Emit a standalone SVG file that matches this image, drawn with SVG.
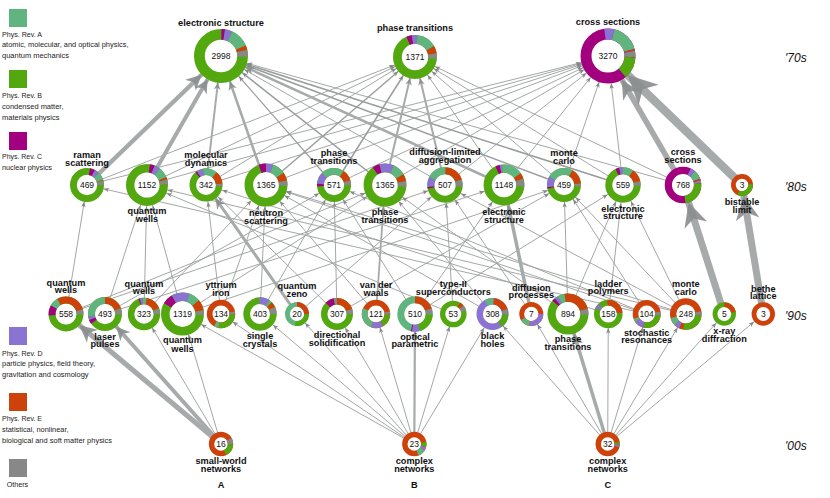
<svg xmlns="http://www.w3.org/2000/svg" width="830" height="498" viewBox="0 0 830 498">
<style>
.e{stroke:#9a9d9d;fill:none}
.k{stroke:#a7aaaa}
.ah{fill:#858888}
.ak{fill:#8a8d8d;fill-opacity:.9}
.s{fill:none}
.base{fill:#fff}
.a{stroke:#60b47d}.b{stroke:#52a80e}.c{stroke:#a3007f}.d{stroke:#8a73d2}.x{stroke:#cd410a}.o{stroke:#888}
.fa{fill:#60b47d}.fb{fill:#52a80e}.fc{fill:#a3007f}.fd{fill:#8a73d2}.fx{fill:#cd410a}.fo{fill:#888}
text{font-family:"Liberation Sans",Arial,Helvetica,sans-serif}
.l{font-size:9.2px;font-weight:bold;text-anchor:middle;fill:#111}
.n{font-size:8.5px;text-anchor:middle;fill:#111}
.dec{font-size:12px;font-style:italic;fill:#111}
.lg{font-size:7.6px;fill:#222}
</style>
<defs>
<marker id="t11" markerUnits="userSpaceOnUse" orient="auto" refX="16.5" refY="0" overflow="visible"><path class="ah" d="M0,-2.2L5.5,0L0,2.2L1.4,0z"/></marker>
<marker id="t12" markerUnits="userSpaceOnUse" orient="auto" refX="17.5" refY="0" overflow="visible"><path class="ah" d="M0,-2.2L5.5,0L0,2.2L1.4,0z"/></marker>
<marker id="t13" markerUnits="userSpaceOnUse" orient="auto" refX="18.5" refY="0" overflow="visible"><path class="ah" d="M0,-2.2L5.5,0L0,2.2L1.4,0z"/></marker>
<marker id="t14" markerUnits="userSpaceOnUse" orient="auto" refX="19.5" refY="0" overflow="visible"><path class="ah" d="M0,-2.2L5.5,0L0,2.2L1.4,0z"/></marker>
<marker id="t16" markerUnits="userSpaceOnUse" orient="auto" refX="21.5" refY="0" overflow="visible"><path class="ah" d="M0,-2.2L5.5,0L0,2.2L1.4,0z"/></marker>
<marker id="t17" markerUnits="userSpaceOnUse" orient="auto" refX="22.5" refY="0" overflow="visible"><path class="ah" d="M0,-2.2L5.5,0L0,2.2L1.4,0z"/></marker>
<marker id="t18" markerUnits="userSpaceOnUse" orient="auto" refX="23.5" refY="0" overflow="visible"><path class="ah" d="M0,-2.2L5.5,0L0,2.2L1.4,0z"/></marker>
<marker id="t20" markerUnits="userSpaceOnUse" orient="auto" refX="25.9" refY="0" overflow="visible"><path class="ah" d="M0,-2.2L5.5,0L0,2.2L1.4,0z"/></marker>
<marker id="t21" markerUnits="userSpaceOnUse" orient="auto" refX="26.7" refY="0" overflow="visible"><path class="ah" d="M0,-2.2L5.5,0L0,2.2L1.4,0z"/></marker>
<marker id="t22" markerUnits="userSpaceOnUse" orient="auto" refX="27.5" refY="0" overflow="visible"><path class="ah" d="M0,-2.2L5.5,0L0,2.2L1.4,0z"/></marker>
<marker id="t27" markerUnits="userSpaceOnUse" orient="auto" refX="32.5" refY="0" overflow="visible"><path class="ah" d="M0,-2.2L5.5,0L0,2.2L1.4,0z"/></marker>
<marker id="t28" markerUnits="userSpaceOnUse" orient="auto" refX="33" refY="0" overflow="visible"><path class="ah" d="M0,-2.2L5.5,0L0,2.2L1.4,0z"/></marker>
<marker id="k1" orient="auto" refX="9.4" refY="0" overflow="visible"><path class="ak" d="M0,-1.7L3.4,0L0,1.7L1,0z"/></marker>
<marker id="k2" orient="auto" refX="10.15" refY="0" overflow="visible"><path class="ak" d="M0,-1.7L3.4,0L0,1.7L1,0z"/></marker>
<marker id="k3" orient="auto" refX="16.9" refY="0" overflow="visible"><path class="ak" d="M0,-1.7L3.4,0L0,1.7L1,0z"/></marker>
<marker id="k4" orient="auto" refX="14.2" refY="0" overflow="visible"><path class="ak" d="M0,-1.7L3.4,0L0,1.7L1,0z"/></marker>
<marker id="k5" orient="auto" refX="14.4" refY="0" overflow="visible"><path class="ak" d="M0,-1.7L3.4,0L0,1.7L1,0z"/></marker>
<marker id="k6" orient="auto" refX="8.4" refY="0" overflow="visible"><path class="ak" d="M0,-1.7L3.4,0L0,1.7L1,0z"/></marker>
<marker id="k7" orient="auto" refX="6.64" refY="0" overflow="visible"><path class="ak" d="M0,-1.7L3.4,0L0,1.7L1,0z"/></marker>
<marker id="k8" orient="auto" refX="8.9" refY="0" overflow="visible"><path class="ak" d="M0,-1.7L3.4,0L0,1.7L1,0z"/></marker>
<marker id="k9" orient="auto" refX="15.3" refY="0" overflow="visible"><path class="ak" d="M0,-1.7L3.4,0L0,1.7L1,0z"/></marker>
<marker id="k10" orient="auto" refX="9.23" refY="0" overflow="visible"><path class="ak" d="M0,-1.7L3.4,0L0,1.7L1,0z"/></marker>
<marker id="k11" orient="auto" refX="6.01" refY="0" overflow="visible"><path class="ak" d="M0,-1.7L3.4,0L0,1.7L1,0z"/></marker>
<marker id="k12" orient="auto" refX="4.97" refY="0" overflow="visible"><path class="ak" d="M0,-1.7L3.4,0L0,1.7L1,0z"/></marker>
<marker id="k13" orient="auto" refX="6.9" refY="0" overflow="visible"><path class="ak" d="M0,-1.7L3.4,0L0,1.7L1,0z"/></marker>
<marker id="k14" orient="auto" refX="7.65" refY="0" overflow="visible"><path class="ak" d="M0,-1.7L3.4,0L0,1.7L1,0z"/></marker>
<marker id="k15" orient="auto" refX="9.26" refY="0" overflow="visible"><path class="ak" d="M0,-1.7L3.4,0L0,1.7L1,0z"/></marker>
<marker id="k16" orient="auto" refX="11.45" refY="0" overflow="visible"><path class="ak" d="M0,-1.7L3.4,0L0,1.7L1,0z"/></marker>
</defs>
<rect width="830" height="498" fill="#fff"/>

<g id="legend">
<rect class="fa" x="9" y="9" width="18" height="18"/>
<text class="lg" x="2" y="36.5" textLength="40" lengthAdjust="spacingAndGlyphs">Phys. Rev. A</text>
<text class="lg" x="2" y="47.3" textLength="126.5" lengthAdjust="spacingAndGlyphs">atomic, molecular, and optical physics,</text>
<text class="lg" x="2" y="58" textLength="67" lengthAdjust="spacingAndGlyphs">quantum mechanics</text>
<rect class="fb" x="9" y="70" width="18" height="18"/>
<text class="lg" x="2" y="97.5" textLength="40" lengthAdjust="spacingAndGlyphs">Phys. Rev. B</text>
<text class="lg" x="2" y="108.5" textLength="61.5" lengthAdjust="spacingAndGlyphs">condensed matter,</text>
<text class="lg" x="2" y="119.5" textLength="57.5" lengthAdjust="spacingAndGlyphs">materials physics</text>
<rect class="fc" x="9" y="132" width="18" height="18"/>
<text class="lg" x="2" y="159" textLength="40" lengthAdjust="spacingAndGlyphs">Phys. Rev. C</text>
<text class="lg" x="2" y="170" textLength="50" lengthAdjust="spacingAndGlyphs">nuclear physics</text>
<rect class="fd" x="9" y="327" width="18" height="18"/>
<text class="lg" x="2" y="355.5" textLength="40.5" lengthAdjust="spacingAndGlyphs">Phys. Rev. D</text>
<text class="lg" x="2" y="366.3" textLength="93" lengthAdjust="spacingAndGlyphs">particle physics, field theory,</text>
<text class="lg" x="2" y="377" textLength="86.5" lengthAdjust="spacingAndGlyphs">gravitation and cosmology</text>
<rect class="fx" x="9" y="393" width="18" height="18"/>
<text class="lg" x="2" y="421" textLength="40" lengthAdjust="spacingAndGlyphs">Phys. Rev. E</text>
<text class="lg" x="2" y="432" textLength="66.5" lengthAdjust="spacingAndGlyphs">statistical, nonlinear,</text>
<text class="lg" x="2" y="443" textLength="110" lengthAdjust="spacingAndGlyphs">biological and soft matter physics</text>
<rect class="fo" x="9" y="459" width="18" height="18"/>
<text class="lg" x="6.7" y="487" textLength="21.5" lengthAdjust="spacingAndGlyphs">Others</text>
</g>

<g id="decades">
<text class="dec" x="785" y="61.5">'70s</text>
<text class="dec" x="785" y="190.5">'80s</text>
<text class="dec" x="785" y="319.5">'90s</text>
<text class="dec" x="785" y="449.5">'00s</text>
</g>

<g id="connectors" stroke-width=".9">
<line class="e" x1="87" y1="185" x2="415" y2="57" marker-end="url(#t22)"/>
<line class="e" x1="87" y1="185" x2="608" y2="56" marker-end="url(#t28)"/>
<line class="e" x1="147" y1="185" x2="415" y2="57" marker-end="url(#t22)"/>
<line class="e" x1="147" y1="185" x2="608" y2="56" marker-end="url(#t28)"/>
<line class="e" x1="206" y1="185" x2="415" y2="57" marker-end="url(#t22)"/>
<line class="e" x1="206" y1="185" x2="608" y2="56" marker-end="url(#t28)"/>
<line class="e" x1="266" y1="185" x2="415" y2="57" stroke-width="1.4" marker-end="url(#t22)"/>
<line class="e" x1="266" y1="185" x2="608" y2="56" marker-end="url(#t28)"/>
<line class="e" x1="334" y1="185" x2="221" y2="56" stroke-width="1.2" marker-end="url(#t27)"/>
<line class="e" x1="334" y1="185" x2="415" y2="57" stroke-width="1.5" marker-end="url(#t22)"/>
<line class="e" x1="334" y1="185" x2="608" y2="56" marker-end="url(#t28)"/>
<line class="e" x1="385" y1="185" x2="221" y2="56" stroke-width="1.5" marker-end="url(#t27)"/>
<line class="e" x1="385" y1="185" x2="608" y2="56" marker-end="url(#t28)"/>
<line class="e" x1="445" y1="185" x2="221" y2="56" marker-end="url(#t27)"/>
<line class="e" x1="445" y1="185" x2="608" y2="56" marker-end="url(#t28)"/>
<line class="e" x1="504" y1="185" x2="415" y2="57" marker-end="url(#t22)"/>
<line class="e" x1="504" y1="185" x2="608" y2="56" marker-end="url(#t28)"/>
<line class="e" x1="564" y1="185" x2="221" y2="56" stroke-width="1.5" marker-end="url(#t27)"/>
<line class="e" x1="564" y1="185" x2="415" y2="57" marker-end="url(#t22)"/>
<line class="e" x1="564" y1="185" x2="608" y2="56" marker-end="url(#t28)"/>
<line class="e" x1="623" y1="185" x2="221" y2="56" stroke-width="1.5" marker-end="url(#t27)"/>
<line class="e" x1="623" y1="185" x2="415" y2="57" marker-end="url(#t22)"/>
<line class="e" x1="623" y1="185" x2="608" y2="56" marker-end="url(#t28)"/>
<line class="e" x1="683" y1="185" x2="415" y2="57" marker-end="url(#t22)"/>
<line class="e" x1="683" y1="185" x2="221" y2="56" marker-end="url(#t27)"/>
<line class="e" x1="66" y1="314" x2="87" y2="185" marker-end="url(#t17)"/>
<line class="e" x1="66" y1="314" x2="385" y2="185" marker-end="url(#t21)"/>
<line class="e" x1="66" y1="314" x2="445" y2="185" marker-end="url(#t18)"/>
<line class="e" x1="105" y1="314" x2="147" y2="185" marker-end="url(#t21)"/>
<line class="e" x1="105" y1="314" x2="334" y2="185" marker-end="url(#t17)"/>
<line class="e" x1="105" y1="314" x2="504" y2="185" marker-end="url(#t20)"/>
<line class="e" x1="144" y1="314" x2="147" y2="185" marker-end="url(#t21)"/>
<line class="e" x1="144" y1="314" x2="266" y2="185" marker-end="url(#t21)"/>
<line class="e" x1="182.5" y1="314" x2="147" y2="185" marker-end="url(#t21)"/>
<line class="e" x1="182.5" y1="314" x2="385" y2="185" marker-end="url(#t21)"/>
<line class="e" x1="182.5" y1="314" x2="564" y2="185" marker-end="url(#t17)"/>
<line class="e" x1="221" y1="314" x2="266" y2="185" marker-end="url(#t21)"/>
<line class="e" x1="221" y1="314" x2="206" y2="185" marker-end="url(#t17)"/>
<line class="e" x1="260" y1="314" x2="266" y2="185" marker-end="url(#t21)"/>
<line class="e" x1="260" y1="314" x2="334" y2="185" marker-end="url(#t17)"/>
<line class="e" x1="297" y1="314" x2="445" y2="185" marker-end="url(#t18)"/>
<line class="e" x1="337" y1="314" x2="334" y2="185" marker-end="url(#t17)"/>
<line class="e" x1="337" y1="314" x2="206" y2="185" marker-end="url(#t17)"/>
<line class="e" x1="337" y1="314" x2="564" y2="185" marker-end="url(#t17)"/>
<line class="e" x1="376" y1="314" x2="266" y2="185" marker-end="url(#t21)"/>
<line class="e" x1="415" y1="314" x2="334" y2="185" marker-end="url(#t17)"/>
<line class="e" x1="415" y1="314" x2="504" y2="185" marker-end="url(#t20)"/>
<line class="e" x1="415" y1="314" x2="623" y2="185" marker-end="url(#t18)"/>
<line class="e" x1="453.3" y1="314" x2="445" y2="185" marker-end="url(#t18)"/>
<line class="e" x1="453.3" y1="314" x2="147" y2="185" marker-end="url(#t21)"/>
<line class="e" x1="492.5" y1="314" x2="385" y2="185" marker-end="url(#t21)"/>
<line class="e" x1="492.5" y1="314" x2="266" y2="185" marker-end="url(#t21)"/>
<line class="e" x1="531.3" y1="314" x2="445" y2="185" marker-end="url(#t18)"/>
<line class="e" x1="568" y1="314" x2="623" y2="185" marker-end="url(#t18)"/>
<line class="e" x1="568" y1="314" x2="385" y2="185" marker-end="url(#t21)"/>
<line class="e" x1="568" y1="314" x2="564" y2="185" marker-end="url(#t17)"/>
<line class="e" x1="608.3" y1="314" x2="623" y2="185" marker-end="url(#t18)"/>
<line class="e" x1="608.3" y1="314" x2="206" y2="185" marker-end="url(#t17)"/>
<line class="e" x1="646.7" y1="314" x2="266" y2="185" marker-end="url(#t21)"/>
<line class="e" x1="646.7" y1="314" x2="334" y2="185" marker-end="url(#t17)"/>
<line class="e" x1="646.7" y1="314" x2="564" y2="185" marker-end="url(#t17)"/>
<line class="e" x1="646.7" y1="314" x2="87" y2="185" marker-end="url(#t17)"/>
<line class="e" x1="685.8" y1="314" x2="147" y2="185" marker-end="url(#t21)"/>
<line class="e" x1="685.8" y1="314" x2="266" y2="185" marker-end="url(#t21)"/>
<line class="e" x1="685.8" y1="314" x2="564" y2="185" marker-end="url(#t17)"/>
<line class="e" x1="685.8" y1="314" x2="623" y2="185" marker-end="url(#t18)"/>
<line class="e" x1="685.8" y1="314" x2="445" y2="185" marker-end="url(#t18)"/>
<line class="e" x1="221" y1="444" x2="144" y2="314" marker-end="url(#t16)"/>
<line class="e" x1="221" y1="444" x2="182.5" y2="314" marker-end="url(#t21)"/>
<line class="e" x1="414.3" y1="444" x2="182.5" y2="314" marker-end="url(#t21)"/>
<line class="e" x1="414.3" y1="444" x2="221" y2="314" marker-end="url(#t14)"/>
<line class="e" x1="414.3" y1="444" x2="260" y2="314" marker-end="url(#t17)"/>
<line class="e" x1="414.3" y1="444" x2="297" y2="314" marker-end="url(#t12)"/>
<line class="e" x1="414.3" y1="444" x2="337" y2="314" marker-end="url(#t16)"/>
<line class="e" x1="414.3" y1="444" x2="376" y2="314" marker-end="url(#t14)"/>
<line class="e" x1="414.3" y1="444" x2="453.3" y2="314" marker-end="url(#t13)"/>
<line class="e" x1="414.3" y1="444" x2="492.5" y2="314" marker-end="url(#t16)"/>
<line class="e" x1="607.7" y1="444" x2="492.5" y2="314" marker-end="url(#t16)"/>
<line class="e" x1="607.7" y1="444" x2="531.3" y2="314" marker-end="url(#t12)"/>
<line class="e" x1="607.7" y1="444" x2="608.3" y2="314" marker-end="url(#t14)"/>
<line class="e" x1="607.7" y1="444" x2="646.7" y2="314" marker-end="url(#t14)"/>
<line class="e" x1="607.7" y1="444" x2="685.8" y2="314" marker-end="url(#t16)"/>
<line class="e" x1="607.7" y1="444" x2="724.3" y2="314" marker-end="url(#t12)"/>
<line class="e" x1="607.7" y1="444" x2="763.3" y2="314" marker-end="url(#t12)"/>
<line class="e k" x1="87" y1="185" x2="221" y2="56" stroke-width="4.5" marker-end="url(#k1)"/>
<line class="e k" x1="147" y1="185" x2="221" y2="56" stroke-width="4" marker-end="url(#k2)"/>
<line class="e k" x1="206" y1="185" x2="221" y2="56" stroke-width="2" marker-end="url(#k3)"/>
<line class="e k" x1="266" y1="185" x2="221" y2="56" stroke-width="2.5" marker-end="url(#k4)"/>
<line class="e k" x1="504" y1="185" x2="221" y2="56" stroke-width="2.5" marker-end="url(#k4)"/>
<line class="e k" x1="385" y1="185" x2="415" y2="57" stroke-width="2" marker-end="url(#k5)"/>
<line class="e k" x1="445" y1="185" x2="415" y2="57" stroke-width="2" marker-end="url(#k5)"/>
<line class="e k" x1="683" y1="185" x2="608" y2="56" stroke-width="5.5" marker-end="url(#k6)"/>
<line class="e k" x1="742" y1="185" x2="608" y2="56" stroke-width="8.5" marker-end="url(#k7)"/>
<line class="e k" x1="297" y1="314" x2="206" y2="185" stroke-width="3" marker-end="url(#k8)"/>
<line class="e k" x1="376" y1="314" x2="385" y2="185" stroke-width="1.8" marker-end="url(#k9)"/>
<line class="e k" x1="531.3" y1="314" x2="504" y2="185" stroke-width="3.5" marker-end="url(#k10)"/>
<line class="e k" x1="724.3" y1="314" x2="683" y2="185" stroke-width="7" marker-end="url(#k11)"/>
<line class="e k" x1="763.3" y1="314" x2="742" y2="185" stroke-width="7" marker-end="url(#k12)"/>
<line class="e k" x1="221" y1="444" x2="66" y2="314" stroke-width="5" marker-end="url(#k13)"/>
<line class="e k" x1="221" y1="444" x2="105" y2="314" stroke-width="4" marker-end="url(#k14)"/>
<line class="e k" x1="607.7" y1="444" x2="568" y2="314" stroke-width="3.5" marker-end="url(#k15)"/>
<line class="e k" x1="414.3" y1="444" x2="415" y2="314" stroke-width="2.2" marker-end="url(#k16)"/>
</g>

<g id="n-es70" stroke-width="10.8">
<circle class="base b" cx="221" cy="56" r="21.6"/>
<circle class="s c" cx="221" cy="56" r="21.6" pathLength="360" stroke-dasharray="8 360" transform="rotate(-89 221 56)"/>
<circle class="s d" cx="221" cy="56" r="21.6" pathLength="360" stroke-dasharray="16 360" transform="rotate(-81 221 56)"/>
<circle class="s a" cx="221" cy="56" r="21.6" pathLength="360" stroke-dasharray="42 360" transform="rotate(-65 221 56)"/>
<circle class="s x" cx="221" cy="56" r="21.6" pathLength="360" stroke-dasharray="10 360" transform="rotate(-23 221 56)"/>
<circle class="s o" cx="221" cy="56" r="21.6" pathLength="360" stroke-dasharray="15 360" transform="rotate(-13 221 56)"/>
<text class="n" x="221" y="59">2998</text>
<text class="l" x="221" y="26">electronic structure</text>
</g>
<g id="n-pt70" stroke-width="8.8">
<circle class="base b" cx="415" cy="57" r="17.6"/>
<circle class="s c" cx="415" cy="57" r="17.6" pathLength="360" stroke-dasharray="15 360" transform="rotate(-113 415 57)"/>
<circle class="s d" cx="415" cy="57" r="17.6" pathLength="360" stroke-dasharray="15 360" transform="rotate(-98 415 57)"/>
<circle class="s a" cx="415" cy="57" r="17.6" pathLength="360" stroke-dasharray="53 360" transform="rotate(-83 415 57)"/>
<circle class="s x" cx="415" cy="57" r="17.6" pathLength="360" stroke-dasharray="20 360" transform="rotate(-30 415 57)"/>
<circle class="s o" cx="415" cy="57" r="17.6" pathLength="360" stroke-dasharray="15 360" transform="rotate(-10 415 57)"/>
<text class="n" x="415" y="60">1371</text>
<text class="l" x="415" y="31">phase transitions</text>
</g>
<g id="n-cs70" stroke-width="11">
<circle class="base c" cx="608" cy="56" r="22"/>
<circle class="s d" cx="608" cy="56" r="22" pathLength="360" stroke-dasharray="21 360" transform="rotate(-98 608 56)"/>
<circle class="s a" cx="608" cy="56" r="22" pathLength="360" stroke-dasharray="62 360" transform="rotate(-77 608 56)"/>
<circle class="s x" cx="608" cy="56" r="22" pathLength="360" stroke-dasharray="4 360" transform="rotate(-15 608 56)"/>
<circle class="s o" cx="608" cy="56" r="22" pathLength="360" stroke-dasharray="14 360" transform="rotate(-11 608 56)"/>
<circle class="s b" cx="608" cy="56" r="22" pathLength="360" stroke-dasharray="47 360" transform="rotate(3 608 56)"/>
<text class="n" x="608" y="59">3270</text>
<text class="l" x="608" y="25">cross sections</text>
</g>

<g id="n-raman" stroke-width="6.8">
<circle class="base b" cx="87" cy="185" r="13.6"/>
<circle class="s c" cx="87" cy="185" r="13.6" pathLength="360" stroke-dasharray="18 360" transform="rotate(-80 87 185)"/>
<circle class="s d" cx="87" cy="185" r="13.6" pathLength="360" stroke-dasharray="17 360" transform="rotate(-62 87 185)"/>
<circle class="s a" cx="87" cy="185" r="13.6" pathLength="360" stroke-dasharray="27 360" transform="rotate(-45 87 185)"/>
<circle class="s x" cx="87" cy="185" r="13.6" pathLength="360" stroke-dasharray="3 360" transform="rotate(-18 87 185)"/>
<circle class="s o" cx="87" cy="185" r="13.6" pathLength="360" stroke-dasharray="15 360" transform="rotate(-15 87 185)"/>
<text class="n" x="87" y="188">469</text>
<text class="l" x="87" y="158">raman</text>
<text class="l" x="87" y="165.5">scattering</text>
</g>
<g id="n-qw1152" stroke-width="8.4">
<circle class="base b" cx="147" cy="185" r="16.8"/>
<circle class="s c" cx="147" cy="185" r="16.8" pathLength="360" stroke-dasharray="14 360" transform="rotate(-82 147 185)"/>
<circle class="s d" cx="147" cy="185" r="16.8" pathLength="360" stroke-dasharray="16 360" transform="rotate(-68 147 185)"/>
<circle class="s a" cx="147" cy="185" r="16.8" pathLength="360" stroke-dasharray="30 360" transform="rotate(-52 147 185)"/>
<circle class="s x" cx="147" cy="185" r="16.8" pathLength="360" stroke-dasharray="7 360" transform="rotate(-22 147 185)"/>
<circle class="s o" cx="147" cy="185" r="16.8" pathLength="360" stroke-dasharray="13 360" transform="rotate(-15 147 185)"/>
<text class="n" x="147" y="188">1152</text>
<text class="l" x="147" y="214.3">quantum</text>
<text class="l" x="147" y="222">wells</text>
</g>
<g id="n-moldyn" stroke-width="6.6">
<circle class="base b" cx="206" cy="185" r="13.2"/>
<circle class="s c" cx="206" cy="185" r="13.2" pathLength="360" stroke-dasharray="7 360" transform="rotate(-130 206 185)"/>
<circle class="s d" cx="206" cy="185" r="13.2" pathLength="360" stroke-dasharray="23 360" transform="rotate(-123 206 185)"/>
<circle class="s a" cx="206" cy="185" r="13.2" pathLength="360" stroke-dasharray="50 360" transform="rotate(-100 206 185)"/>
<circle class="s x" cx="206" cy="185" r="13.2" pathLength="360" stroke-dasharray="45 360" transform="rotate(-50 206 185)"/>
<circle class="s o" cx="206" cy="185" r="13.2" pathLength="360" stroke-dasharray="10 360" transform="rotate(-5 206 185)"/>
<text class="n" x="206" y="188">342</text>
<text class="l" x="206" y="158">molecular</text>
<text class="l" x="206" y="165.5">dynamics</text>
</g>
<g id="n-neutron" stroke-width="8.6">
<circle class="base b" cx="266" cy="185" r="17.2"/>
<circle class="s c" cx="266" cy="185" r="17.2" pathLength="360" stroke-dasharray="20 360" transform="rotate(-110 266 185)"/>
<circle class="s d" cx="266" cy="185" r="17.2" pathLength="360" stroke-dasharray="20 360" transform="rotate(-90 266 185)"/>
<circle class="s a" cx="266" cy="185" r="17.2" pathLength="360" stroke-dasharray="35 360" transform="rotate(-70 266 185)"/>
<circle class="s x" cx="266" cy="185" r="17.2" pathLength="360" stroke-dasharray="23 360" transform="rotate(-35 266 185)"/>
<circle class="s o" cx="266" cy="185" r="17.2" pathLength="360" stroke-dasharray="14 360" transform="rotate(-12 266 185)"/>
<text class="n" x="266" y="188">1365</text>
<text class="l" x="266" y="216">neutron</text>
<text class="l" x="266" y="223.5">scattering</text>
</g>
<g id="n-pt571" stroke-width="6.8">
<circle class="base b" cx="334" cy="185" r="13.6"/>
<circle class="s c" cx="334" cy="185" r="13.6" pathLength="360" stroke-dasharray="10 360" transform="rotate(-185 334 185)"/>
<circle class="s d" cx="334" cy="185" r="13.6" pathLength="360" stroke-dasharray="40 360" transform="rotate(-175 334 185)"/>
<circle class="s a" cx="334" cy="185" r="13.6" pathLength="360" stroke-dasharray="80 360" transform="rotate(-135 334 185)"/>
<circle class="s x" cx="334" cy="185" r="13.6" pathLength="360" stroke-dasharray="40 360" transform="rotate(-55 334 185)"/>
<circle class="s o" cx="334" cy="185" r="13.6" pathLength="360" stroke-dasharray="15 360" transform="rotate(-15 334 185)"/>
<text class="n" x="334" y="188">571</text>
<text class="l" x="334" y="156">phase</text>
<text class="l" x="334" y="163.5">transitions</text>
</g>
<g id="n-pt1365" stroke-width="8.6">
<circle class="base b" cx="385" cy="185" r="17.1"/>
<circle class="s c" cx="385" cy="185" r="17.1" pathLength="360" stroke-dasharray="20 360" transform="rotate(-125 385 185)"/>
<circle class="s d" cx="385" cy="185" r="17.1" pathLength="360" stroke-dasharray="40 360" transform="rotate(-105 385 185)"/>
<circle class="s a" cx="385" cy="185" r="17.1" pathLength="360" stroke-dasharray="35 360" transform="rotate(-65 385 185)"/>
<circle class="s x" cx="385" cy="185" r="17.1" pathLength="360" stroke-dasharray="20 360" transform="rotate(-30 385 185)"/>
<circle class="s o" cx="385" cy="185" r="17.1" pathLength="360" stroke-dasharray="15 360" transform="rotate(-10 385 185)"/>
<text class="n" x="385" y="188">1365</text>
<text class="l" x="385" y="215">phase</text>
<text class="l" x="385" y="222.7">transitions</text>
</g>
<g id="n-dla" stroke-width="7">
<circle class="base b" cx="445" cy="185" r="14.2"/>
<circle class="s c" cx="445" cy="185" r="14.2" pathLength="360" stroke-dasharray="6 360" transform="rotate(-192 445 185)"/>
<circle class="s d" cx="445" cy="185" r="14.2" pathLength="360" stroke-dasharray="34 360" transform="rotate(-186 445 185)"/>
<circle class="s a" cx="445" cy="185" r="14.2" pathLength="360" stroke-dasharray="64 360" transform="rotate(-152 445 185)"/>
<circle class="s x" cx="445" cy="185" r="14.2" pathLength="360" stroke-dasharray="70 360" transform="rotate(-88 445 185)"/>
<circle class="s o" cx="445" cy="185" r="14.2" pathLength="360" stroke-dasharray="23 360" transform="rotate(-18 445 185)"/>
<text class="n" x="445" y="188">507</text>
<text class="l" x="445" y="155">diffusion-limited</text>
<text class="l" x="445" y="162.5">aggregation</text>
</g>
<g id="n-es1148" stroke-width="8.2">
<circle class="base b" cx="504" cy="185" r="16.3"/>
<circle class="s c" cx="504" cy="185" r="16.3" pathLength="360" stroke-dasharray="13 360" transform="rotate(-115 504 185)"/>
<circle class="s d" cx="504" cy="185" r="16.3" pathLength="360" stroke-dasharray="7 360" transform="rotate(-102 504 185)"/>
<circle class="s a" cx="504" cy="185" r="16.3" pathLength="360" stroke-dasharray="60 360" transform="rotate(-95 504 185)"/>
<circle class="s x" cx="504" cy="185" r="16.3" pathLength="360" stroke-dasharray="17 360" transform="rotate(-35 504 185)"/>
<circle class="s o" cx="504" cy="185" r="16.3" pathLength="360" stroke-dasharray="23 360" transform="rotate(-18 504 185)"/>
<text class="n" x="504" y="188">1148</text>
<text class="l" x="504" y="215.3">electronic</text>
<text class="l" x="504" y="222.7">structure</text>
</g>
<g id="n-mc459" stroke-width="6.8">
<circle class="base b" cx="564" cy="185" r="13.6"/>
<circle class="s c" cx="564" cy="185" r="13.6" pathLength="360" stroke-dasharray="6 360" transform="rotate(-193 564 185)"/>
<circle class="s d" cx="564" cy="185" r="13.6" pathLength="360" stroke-dasharray="37 360" transform="rotate(-187 564 185)"/>
<circle class="s a" cx="564" cy="185" r="13.6" pathLength="360" stroke-dasharray="90 360" transform="rotate(-150 564 185)"/>
<circle class="s x" cx="564" cy="185" r="13.6" pathLength="360" stroke-dasharray="55 360" transform="rotate(-60 564 185)"/>
<circle class="s o" cx="564" cy="185" r="13.6" pathLength="360" stroke-dasharray="10 360" transform="rotate(-5 564 185)"/>
<text class="n" x="564" y="188">459</text>
<text class="l" x="564" y="156.3">monte</text>
<text class="l" x="564" y="163.7">carlo</text>
</g>
<g id="n-es559" stroke-width="7">
<circle class="base b" cx="623" cy="185" r="14.2"/>
<circle class="s c" cx="623" cy="185" r="14.2" pathLength="360" stroke-dasharray="13 360" transform="rotate(-115 623 185)"/>
<circle class="s d" cx="623" cy="185" r="14.2" pathLength="360" stroke-dasharray="12 360" transform="rotate(-102 623 185)"/>
<circle class="s a" cx="623" cy="185" r="14.2" pathLength="360" stroke-dasharray="35 360" transform="rotate(-90 623 185)"/>
<circle class="s x" cx="623" cy="185" r="14.2" pathLength="360" stroke-dasharray="43 360" transform="rotate(-55 623 185)"/>
<circle class="s o" cx="623" cy="185" r="14.2" pathLength="360" stroke-dasharray="15 360" transform="rotate(-12 623 185)"/>
<text class="n" x="623" y="188">559</text>
<text class="l" x="623" y="211.7">electronic</text>
<text class="l" x="623" y="219.2">structure</text>
</g>
<g id="n-cs768" stroke-width="7.3">
<circle class="base c" cx="683" cy="185" r="14.65"/>
<circle class="s d" cx="683" cy="185" r="14.65" pathLength="360" stroke-dasharray="15 360" transform="rotate(-65 683 185)"/>
<circle class="s a" cx="683" cy="185" r="14.65" pathLength="360" stroke-dasharray="30 360" transform="rotate(-50 683 185)"/>
<circle class="s x" cx="683" cy="185" r="14.65" pathLength="360" stroke-dasharray="5 360" transform="rotate(-20 683 185)"/>
<circle class="s o" cx="683" cy="185" r="14.65" pathLength="360" stroke-dasharray="10 360" transform="rotate(-15 683 185)"/>
<circle class="s b" cx="683" cy="185" r="14.65" pathLength="360" stroke-dasharray="87 360" transform="rotate(-5 683 185)"/>
<text class="n" x="683" y="188">768</text>
<text class="l" x="683" y="155">cross</text>
<text class="l" x="683" y="162.7">sections</text>
</g>
<g id="n-bis3" stroke-width="4.8">
<circle class="base x" cx="742" cy="185" r="8.6"/>
<circle class="s b" cx="742" cy="185" r="8.6" pathLength="360" stroke-dasharray="120 360" transform="rotate(-5 742 185)"/>
<text class="n" x="742" y="188">3</text>
<text class="l" x="742" y="205">bistable</text>
<text class="l" x="742" y="212.7">limit</text>
</g>

<g id="n-qw558" stroke-width="7">
<circle class="base b" cx="66" cy="314" r="14"/>
<circle class="s c" cx="66" cy="314" r="14" pathLength="360" stroke-dasharray="35 360" transform="rotate(-185 66 314)"/>
<circle class="s a" cx="66" cy="314" r="14" pathLength="360" stroke-dasharray="30 360" transform="rotate(-150 66 314)"/>
<circle class="s x" cx="66" cy="314" r="14" pathLength="360" stroke-dasharray="105 360" transform="rotate(-120 66 314)"/>
<circle class="s o" cx="66" cy="314" r="14" pathLength="360" stroke-dasharray="17 360" transform="rotate(-15 66 314)"/>
<text class="n" x="66" y="317">558</text>
<text class="l" x="66" y="285.7">quantum</text>
<text class="l" x="66" y="293.3">wells</text>
</g>
<g id="n-lp493" stroke-width="6.8">
<circle class="base b" cx="105" cy="314" r="13.6"/>
<circle class="s c" cx="105" cy="314" r="13.6" pathLength="360" stroke-dasharray="15 360" transform="rotate(145 105 314)"/>
<circle class="s d" cx="105" cy="314" r="13.6" pathLength="360" stroke-dasharray="12 360" transform="rotate(160 105 314)"/>
<circle class="s a" cx="105" cy="314" r="13.6" pathLength="360" stroke-dasharray="98 360" transform="rotate(172 105 314)"/>
<circle class="s x" cx="105" cy="314" r="13.6" pathLength="360" stroke-dasharray="70 360" transform="rotate(-90 105 314)"/>
<circle class="s o" cx="105" cy="314" r="13.6" pathLength="360" stroke-dasharray="22 360" transform="rotate(-20 105 314)"/>
<text class="n" x="105" y="317">493</text>
<text class="l" x="105" y="340">laser</text>
<text class="l" x="105" y="347.3">pulses</text>
</g>
<g id="n-qw323" stroke-width="6.5">
<circle class="base b" cx="144" cy="314" r="12.95"/>
<circle class="s c" cx="144" cy="314" r="12.95" pathLength="360" stroke-dasharray="5 360" transform="rotate(-110 144 314)"/>
<circle class="s d" cx="144" cy="314" r="12.95" pathLength="360" stroke-dasharray="10 360" transform="rotate(-105 144 314)"/>
<circle class="s a" cx="144" cy="314" r="12.95" pathLength="360" stroke-dasharray="15 360" transform="rotate(-95 144 314)"/>
<circle class="s x" cx="144" cy="314" r="12.95" pathLength="360" stroke-dasharray="58 360" transform="rotate(-80 144 314)"/>
<circle class="s o" cx="144" cy="314" r="12.95" pathLength="360" stroke-dasharray="20 360" transform="rotate(-20 144 314)"/>
<text class="n" x="144" y="317">323</text>
<text class="l" x="144" y="286.5">quantum</text>
<text class="l" x="144" y="294.3">wells</text>
</g>
<g id="n-qw1319" stroke-width="8.6">
<circle class="base b" cx="182.5" cy="314" r="17.2"/>
<circle class="s c" cx="182.5" cy="314" r="17.2" pathLength="360" stroke-dasharray="30 360" transform="rotate(-150 182.5 314)"/>
<circle class="s d" cx="182.5" cy="314" r="17.2" pathLength="360" stroke-dasharray="50 360" transform="rotate(-120 182.5 314)"/>
<circle class="s a" cx="182.5" cy="314" r="17.2" pathLength="360" stroke-dasharray="30 360" transform="rotate(-70 182.5 314)"/>
<circle class="s x" cx="182.5" cy="314" r="17.2" pathLength="360" stroke-dasharray="30 360" transform="rotate(-40 182.5 314)"/>
<circle class="s o" cx="182.5" cy="314" r="17.2" pathLength="360" stroke-dasharray="12 360" transform="rotate(-10 182.5 314)"/>
<text class="n" x="182.5" y="317">1319</text>
<text class="l" x="182.5" y="343.3">quantum</text>
<text class="l" x="182.5" y="351.5">wells</text>
</g>
<g id="n-yi134" stroke-width="5.7">
<circle class="base x" cx="221" cy="314" r="11.35"/>
<circle class="s o" cx="221" cy="314" r="11.35" pathLength="360" stroke-dasharray="12 360" transform="rotate(-10 221 314)"/>
<circle class="s b" cx="221" cy="314" r="11.35" pathLength="360" stroke-dasharray="98 360" transform="rotate(2 221 314)"/>
<circle class="s a" cx="221" cy="314" r="11.35" pathLength="360" stroke-dasharray="20 360" transform="rotate(100 221 314)"/>
<text class="n" x="221" y="317">134</text>
<text class="l" x="221" y="288.3">yttrium</text>
<text class="l" x="221" y="296">iron</text>
</g>
<g id="n-sc403" stroke-width="6.7">
<circle class="base b" cx="260" cy="314" r="13.35"/>
<circle class="s d" cx="260" cy="314" r="13.35" pathLength="360" stroke-dasharray="38 360" transform="rotate(-93 260 314)"/>
<circle class="s a" cx="260" cy="314" r="13.35" pathLength="360" stroke-dasharray="10 360" transform="rotate(-55 260 314)"/>
<circle class="s x" cx="260" cy="314" r="13.35" pathLength="360" stroke-dasharray="20 360" transform="rotate(-45 260 314)"/>
<circle class="s o" cx="260" cy="314" r="13.35" pathLength="360" stroke-dasharray="25 360" transform="rotate(-25 260 314)"/>
<text class="n" x="260" y="317">403</text>
<text class="l" x="260" y="339.3">single</text>
<text class="l" x="260" y="347.3">crystals</text>
</g>
<g id="n-qz20" stroke-width="4.8">
<circle class="base a" cx="297" cy="314" r="9.6"/>
<circle class="s x" cx="297" cy="314" r="9.6" pathLength="360" stroke-dasharray="90 360" transform="rotate(-90 297 314)"/>
<circle class="s b" cx="297" cy="314" r="9.6" pathLength="360" stroke-dasharray="100 360" transform="rotate(0 297 314)"/>
<text class="n" x="297" y="317">20</text>
<text class="l" x="297" y="289.3">quantum</text>
<text class="l" x="297" y="297">zeno</text>
</g>
<g id="n-ds307" stroke-width="6.4">
<circle class="base b" cx="337" cy="314" r="12.8"/>
<circle class="s c" cx="337" cy="314" r="12.8" pathLength="360" stroke-dasharray="33 360" transform="rotate(-135 337 314)"/>
<circle class="s o" cx="337" cy="314" r="12.8" pathLength="360" stroke-dasharray="12 360" transform="rotate(-102 337 314)"/>
<circle class="s x" cx="337" cy="314" r="12.8" pathLength="360" stroke-dasharray="72 360" transform="rotate(-90 337 314)"/>
<circle class="s o" cx="337" cy="314" r="12.8" pathLength="360" stroke-dasharray="18 360" transform="rotate(-18 337 314)"/>
<text class="n" x="337" y="317">307</text>
<text class="l" x="337" y="338.3">directional</text>
<text class="l" x="337" y="346">solidification</text>
</g>
<g id="n-vdw121" stroke-width="5.7">
<circle class="base x" cx="376" cy="314" r="11.35"/>
<circle class="s o" cx="376" cy="314" r="11.35" pathLength="360" stroke-dasharray="13 360" transform="rotate(-10 376 314)"/>
<circle class="s b" cx="376" cy="314" r="11.35" pathLength="360" stroke-dasharray="57 360" transform="rotate(3 376 314)"/>
<circle class="s d" cx="376" cy="314" r="11.35" pathLength="360" stroke-dasharray="50 360" transform="rotate(60 376 314)"/>
<circle class="s a" cx="376" cy="314" r="11.35" pathLength="360" stroke-dasharray="95 360" transform="rotate(110 376 314)"/>
<text class="n" x="376" y="317">121</text>
<text class="l" x="376" y="287.7">van der</text>
<text class="l" x="376" y="295.5">waals</text>
</g>
<g id="n-op510" stroke-width="7">
<circle class="base a" cx="415" cy="314" r="14.2"/>
<circle class="s x" cx="415" cy="314" r="14.2" pathLength="360" stroke-dasharray="72 360" transform="rotate(-90 415 314)"/>
<circle class="s o" cx="415" cy="314" r="14.2" pathLength="360" stroke-dasharray="20 360" transform="rotate(-18 415 314)"/>
<circle class="s b" cx="415" cy="314" r="14.2" pathLength="360" stroke-dasharray="73 360" transform="rotate(2 415 314)"/>
<circle class="s d" cx="415" cy="314" r="14.2" pathLength="360" stroke-dasharray="25 360" transform="rotate(75 415 314)"/>
<circle class="s c" cx="415" cy="314" r="14.2" pathLength="360" stroke-dasharray="4 360" transform="rotate(100 415 314)"/>
<text class="n" x="415" y="317">510</text>
<text class="l" x="415" y="340">optical</text>
<text class="l" x="415" y="347.3">parametric</text>
</g>
<g id="n-t53" stroke-width="5.3">
<circle class="base b" cx="453.3" cy="314" r="10.65"/>
<circle class="s x" cx="453.3" cy="314" r="10.65" pathLength="360" stroke-dasharray="20 360" transform="rotate(-60 453.3 314)"/>
<circle class="s o" cx="453.3" cy="314" r="10.65" pathLength="360" stroke-dasharray="25 360" transform="rotate(-40 453.3 314)"/>
<text class="n" x="453.3" y="317">53</text>
<text class="l" x="453.3" y="287.3">type-II</text>
<text class="l" x="453.3" y="295">superconductors</text>
</g>
<g id="n-bh308" stroke-width="6.4">
<circle class="base d" cx="492.5" cy="314" r="12.8"/>
<circle class="s a" cx="492.5" cy="314" r="12.8" pathLength="360" stroke-dasharray="35 360" transform="rotate(-120 492.5 314)"/>
<circle class="s x" cx="492.5" cy="314" r="12.8" pathLength="360" stroke-dasharray="67 360" transform="rotate(-85 492.5 314)"/>
<circle class="s o" cx="492.5" cy="314" r="12.8" pathLength="360" stroke-dasharray="20 360" transform="rotate(-18 492.5 314)"/>
<circle class="s b" cx="492.5" cy="314" r="12.8" pathLength="360" stroke-dasharray="53 360" transform="rotate(2 492.5 314)"/>
<text class="n" x="492.5" y="317">308</text>
<text class="l" x="492.5" y="339.3">black</text>
<text class="l" x="492.5" y="346.5">holes</text>
</g>
<g id="n-dp7" stroke-width="4.8">
<circle class="base x" cx="531.3" cy="314" r="9.6"/>
<circle class="s d" cx="531.3" cy="314" r="9.6" pathLength="360" stroke-dasharray="100 360" transform="rotate(0 531.3 314)"/>
<circle class="s a" cx="531.3" cy="314" r="9.6" pathLength="360" stroke-dasharray="50 360" transform="rotate(100 531.3 314)"/>
<text class="n" x="531.3" y="317">7</text>
<text class="l" x="531.3" y="290.5">diffusion</text>
<text class="l" x="531.3" y="297.8">processes</text>
</g>
<g id="n-pt894" stroke-width="8.2">
<circle class="base b" cx="568" cy="314" r="16.4"/>
<circle class="s c" cx="568" cy="314" r="16.4" pathLength="360" stroke-dasharray="10 360" transform="rotate(-140 568 314)"/>
<circle class="s d" cx="568" cy="314" r="16.4" pathLength="360" stroke-dasharray="10 360" transform="rotate(-130 568 314)"/>
<circle class="s a" cx="568" cy="314" r="16.4" pathLength="360" stroke-dasharray="20 360" transform="rotate(-120 568 314)"/>
<circle class="s x" cx="568" cy="314" r="16.4" pathLength="360" stroke-dasharray="85 360" transform="rotate(-100 568 314)"/>
<circle class="s o" cx="568" cy="314" r="16.4" pathLength="360" stroke-dasharray="17 360" transform="rotate(-15 568 314)"/>
<text class="n" x="568" y="317">894</text>
<text class="l" x="568" y="342">phase</text>
<text class="l" x="568" y="350">transitions</text>
</g>
<g id="n-lp158" stroke-width="5.7">
<circle class="base b" cx="608.3" cy="314" r="11.45"/>
<circle class="s d" cx="608.3" cy="314" r="11.45" pathLength="360" stroke-dasharray="20 360" transform="rotate(-155 608.3 314)"/>
<circle class="s x" cx="608.3" cy="314" r="11.45" pathLength="360" stroke-dasharray="90 360" transform="rotate(-95 608.3 314)"/>
<text class="n" x="608.3" y="317">158</text>
<text class="l" x="608.3" y="286.5">ladder</text>
<text class="l" x="608.3" y="294">polymers</text>
</g>
<g id="n-sr104" stroke-width="5.6">
<circle class="base x" cx="646.7" cy="314" r="11.2"/>
<circle class="s o" cx="646.7" cy="314" r="11.2" pathLength="360" stroke-dasharray="15 360" transform="rotate(-10 646.7 314)"/>
<circle class="s b" cx="646.7" cy="314" r="11.2" pathLength="360" stroke-dasharray="100 360" transform="rotate(5 646.7 314)"/>
<circle class="s d" cx="646.7" cy="314" r="11.2" pathLength="360" stroke-dasharray="40 360" transform="rotate(105 646.7 314)"/>
<circle class="s a" cx="646.7" cy="314" r="11.2" pathLength="360" stroke-dasharray="15 360" transform="rotate(145 646.7 314)"/>
<text class="n" x="646.7" y="317">104</text>
<text class="l" x="646.7" y="336">stochastic</text>
<text class="l" x="646.7" y="343.3">resonances</text>
</g>
<g id="n-mc248" stroke-width="6.3">
<circle class="base x" cx="685.8" cy="314" r="12.65"/>
<circle class="s o" cx="685.8" cy="314" r="12.65" pathLength="360" stroke-dasharray="15 360" transform="rotate(-10 685.8 314)"/>
<circle class="s b" cx="685.8" cy="314" r="12.65" pathLength="360" stroke-dasharray="95 360" transform="rotate(5 685.8 314)"/>
<circle class="s d" cx="685.8" cy="314" r="12.65" pathLength="360" stroke-dasharray="20 360" transform="rotate(115 685.8 314)"/>
<circle class="s a" cx="685.8" cy="314" r="12.65" pathLength="360" stroke-dasharray="30 360" transform="rotate(135 685.8 314)"/>
<text class="n" x="685.8" y="317">248</text>
<text class="l" x="685.8" y="287.3">monte</text>
<text class="l" x="685.8" y="295">carlo</text>
</g>
<g id="n-xr5" stroke-width="4.8">
<circle class="base b" cx="724.3" cy="314" r="9.3"/>
<circle class="s x" cx="724.3" cy="314" r="9.3" pathLength="360" stroke-dasharray="80 360" transform="rotate(-90 724.3 314)"/>
<text class="n" x="724.3" y="317">5</text>
<text class="l" x="724.3" y="334">x-ray</text>
<text class="l" x="724.3" y="342.3">diffraction</text>
</g>
<g id="n-bl3" stroke-width="4.8">
<circle class="base x" cx="763.3" cy="314" r="9.3"/>
<text class="n" x="763.3" y="317">3</text>
<text class="l" x="763.3" y="291.5">bethe</text>
<text class="l" x="763.3" y="299">lattice</text>
</g>

<g id="n-a16" stroke-width="5.4">
<circle class="base x" cx="221" cy="444" r="9.5"/>
<circle class="s o" cx="221" cy="444" r="9.5" pathLength="360" stroke-dasharray="32 360" transform="rotate(-30 221 444)"/>
<circle class="s b" cx="221" cy="444" r="9.5" pathLength="360" stroke-dasharray="63 360" transform="rotate(2 221 444)"/>
<text class="n" x="221" y="447">16</text>
<text class="l" x="221" y="464">small-world</text>
<text class="l" x="221" y="472">networks</text>
<text class="l" x="221" y="487.5">A</text>
</g>
<g id="n-b23" stroke-width="5.4">
<circle class="base x" cx="414.3" cy="444" r="9.5"/>
<circle class="s b" cx="414.3" cy="444" r="9.5" pathLength="360" stroke-dasharray="25 360" transform="rotate(-10 414.3 444)"/>
<circle class="s d" cx="414.3" cy="444" r="9.5" pathLength="360" stroke-dasharray="17 360" transform="rotate(15 414.3 444)"/>
<circle class="s a" cx="414.3" cy="444" r="9.5" pathLength="360" stroke-dasharray="38 360" transform="rotate(32 414.3 444)"/>
<text class="n" x="414.3" y="447">23</text>
<text class="l" x="414.3" y="464">complex</text>
<text class="l" x="414.3" y="472">networks</text>
<text class="l" x="414.3" y="487.5">B</text>
</g>
<g id="n-c32" stroke-width="5.4">
<circle class="base x" cx="607.7" cy="444" r="9.5"/>
<circle class="s b" cx="607.7" cy="444" r="9.5" pathLength="360" stroke-dasharray="15 360" transform="rotate(-10 607.7 444)"/>
<circle class="s d" cx="607.7" cy="444" r="9.5" pathLength="360" stroke-dasharray="10 360" transform="rotate(5 607.7 444)"/>
<text class="n" x="607.7" y="447">32</text>
<text class="l" x="607.7" y="464">complex</text>
<text class="l" x="607.7" y="472">networks</text>
<text class="l" x="607.7" y="487.5">C</text>
</g>
</svg>
